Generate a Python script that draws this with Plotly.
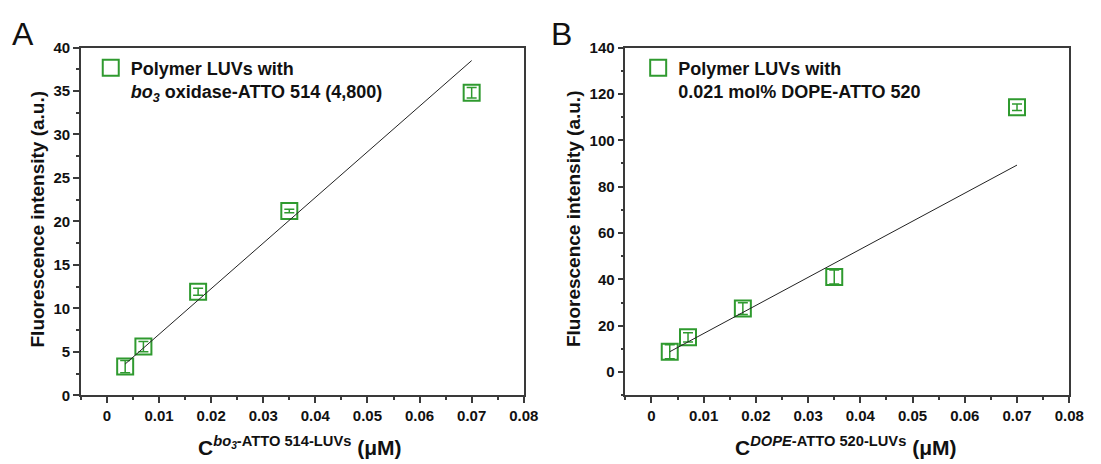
import plotly.graph_objects as go

# ---- data ----
conc = [0.0035, 0.007, 0.0175, 0.035, 0.07]            # µM
intensity_A = [3.3, 5.6, 11.9, 21.2, 34.8]             # a.u.
error_A = [0.7, 0.6, 0.4, 0.2, 0.6]
intensity_B = [8.8, 15.0, 27.4, 41.0, 114.2]
error_B = [3.0, 2.0, 2.5, 3.0, 1.4]
fit_x = [0.0035, 0.07]
fit_A = [3.6, 38.5]
fit_B = [8.8, 89.3]
x_ticks = [0, 0.01, 0.02, 0.03, 0.04, 0.05, 0.06, 0.07, 0.08]
x_ticktext = ["0", "0.01", "0.02", "0.03", "0.04", "0.05", "0.06", "0.07", "0.08"]
name_A = "Polymer LUVs with<br><i>bo<sub>3</sub></i> oxidase-ATTO 514 (4,800)"
name_B = "Polymer LUVs with<br>0.021 mol% DOPE-ATTO 520"

GREEN = "#2f9a2f"
AX = "#3a3a3a"
FONT = "Liberation Sans, Arial, sans-serif"
W, H = 1101, 464

fig = go.Figure()

marker = dict(symbol="square-open", size=16, color=GREEN, line=dict(width=2, color=GREEN))

fig.add_trace(go.Scatter(x=conc, y=intensity_A, mode="markers", name=name_A, marker=marker,
                         error_y=dict(type="data", array=error_A, color=GREEN, thickness=1.5, width=5),
                         xaxis="x", yaxis="y", legend="legend"))
fig.add_trace(go.Scatter(x=fit_x, y=fit_A, mode="lines", line=dict(color="#222", width=1),
                         showlegend=False, xaxis="x", yaxis="y"))
fig.add_trace(go.Scatter(x=conc, y=intensity_B, mode="markers", name=name_B, marker=marker,
                         error_y=dict(type="data", array=error_B, color=GREEN, thickness=1.5, width=5),
                         xaxis="x2", yaxis="y2", legend="legend2"))
fig.add_trace(go.Scatter(x=fit_x, y=fit_B, mode="lines", line=dict(color="#222", width=1),
                         showlegend=False, xaxis="x2", yaxis="y2"))

def px_x(p):
    return p / W

def px_y(p):
    return 1 - p / H

ydom = [px_y(401), px_y(40)]

common_axis = dict(showline=True, linecolor=AX, linewidth=1.5, mirror=True, ticks="outside",
                   ticklen=6, tickwidth=1.5, tickcolor=AX, showgrid=False, zeroline=False,
                   tickfont=dict(family=FONT, size=15, color="#111", weight="bold"))

xaxis_common = dict(common_axis, range=[-0.005, 0.08], tickvals=x_ticks, ticktext=x_ticktext,
                    minor=dict(dtick=0.005, tick0=0, ticks="outside", ticklen=3, tickwidth=1.5, tickcolor=AX))

legend_font = dict(family=FONT, size=18, color="#111", weight="bold")

fig.update_layout(
    width=W, height=H,
    margin=dict(l=0, r=0, t=0, b=0),
    paper_bgcolor="white", plot_bgcolor="white",
    xaxis=dict(xaxis_common, domain=[px_x(82), px_x(531)], anchor="y"),
    yaxis=dict(common_axis, domain=ydom, anchor="x", range=[0, 40], dtick=5, tick0=0,
               minor=dict(dtick=2.5, tick0=0, ticks="outside", ticklen=3, tickwidth=1.5, tickcolor=AX)),
    xaxis2=dict(xaxis_common, domain=[px_x(634), px_x(1084)], anchor="y2"),
    yaxis2=dict(common_axis, domain=ydom, anchor="x2", range=[-10, 140], dtick=20, tick0=0,
                minor=dict(dtick=10, tick0=0, ticks="outside", ticklen=3, tickwidth=1.5, tickcolor=AX)),
    legend=dict(x=px_x(92), y=px_y(42), xanchor="left", yanchor="top", valign="top",
                bgcolor="rgba(0,0,0,0)", font=legend_font),
    legend2=dict(x=px_x(647), y=px_y(42), xanchor="left", yanchor="top", valign="top",
                 bgcolor="rgba(0,0,0,0)", font=legend_font),
    showlegend=True,
)

title_font = dict(family=FONT, size=19, color="#111", weight="bold")
xtitle_font = dict(family=FONT, size=21, color="#111", weight="bold")
ann = [
    dict(text="A", x=px_x(23), y=px_y(26), font=dict(family=FONT, size=32, color="#111")),
    dict(text="B", x=px_x(569), y=px_y(26), font=dict(family=FONT, size=32, color="#111")),
    dict(text="Fluorescence intensity (a.u.)", x=px_x(38), y=px_y(218), textangle=-90, font=title_font),
    dict(text="Fluorescence intensity (a.u.)", x=px_x(581), y=px_y(218), textangle=-90, font=title_font),
    dict(text="C<sup><i>bo<sub>3</sub></i>-ATTO 514-LUVs</sup> (\u03bcM)", x=px_x(304), y=px_y(454),
         font=xtitle_font),
    dict(text="C<sup><i>DOPE</i>-ATTO 520-LUVs</sup> (\u03bcM)", x=px_x(858), y=px_y(454),
         font=xtitle_font),
]
for a in ann:
    a.update(xref="paper", yref="paper", showarrow=False, xanchor="center", yanchor="middle")
fig.update_layout(annotations=ann)

fig.write_html("out.html")
